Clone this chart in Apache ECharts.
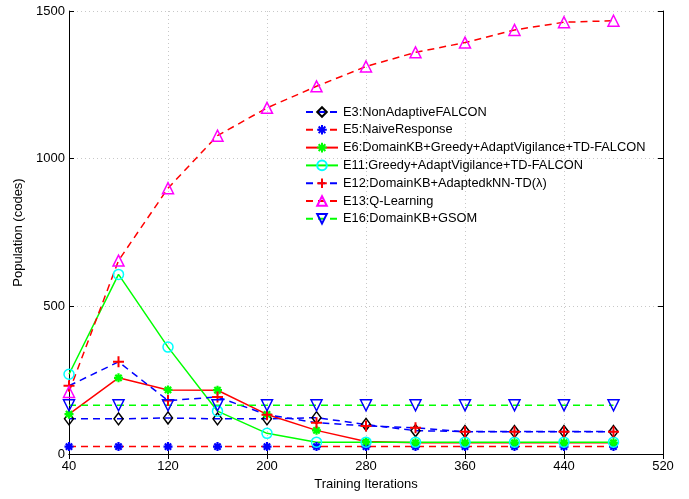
<!DOCTYPE html>
<html>
<head>
<meta charset="utf-8">
<script src="https://cdn.jsdelivr.net/npm/echarts@6/dist/echarts.min.js"></script>
<style>html,body{margin:0;padding:0;background:#fff}#c{width:689px;height:499px}</style>
</head>
<body>
<div id="c"></div>
<script>
// Axis categories (training iterations) and tick labels
var xCategories = ['40','80','120','160','200','240','280','320','360','400','440','480','520'];
var yTicks = [0, 500, 1000, 1500];

// Series values (x = 40, 80, ..., 480)
var e3  = [119, 119, 122, 119, 119, 123, 100, 79, 76, 76, 76, 76];
var e5  = [25, 25, 25, 25, 25, 25, 25, 25, 25, 25, 25, 25];
var e6  = [135, 258, 217, 216, 134, 80, 42, 38, 38, 38, 38, 38];
var e11 = [270, 608, 362, 145, 70, 40, 40, 40, 40, 40, 40, 40];
var e12 = [231, 312, 181, 193, 133, 106, 95, 89, 75, 75, 75, 75];
var e13 = [210, 655, 900, 1078, 1172, 1245, 1312, 1360, 1393, 1436, 1462, 1467];
var e16 = [165, 165, 165, 165, 165, 165, 165, 165, 165, 165, 165, 165];

var names = [
  'E3:NonAdaptiveFALCON',
  'E5:NaiveResponse',
  'E6:DomainKB+Greedy+AdaptVigilance+TD-FALCON',
  'E11:Greedy+AdaptVigilance+TD-FALCON',
  'E12:DomainKB+AdaptedkNN-TD(λ)',
  'E13:Q-Learning',
  'E16:DomainKB+GSOM'
];

var FONT = 'Liberation Sans';
var PLUS = 'path://M5,0L5,10M0,5L10,5';
var STAR = 'path://M5,0L5,10M0,5L10,5M1.5,1.5L8.5,8.5M8.5,1.5L1.5,8.5';
var DASH = [7, 5];

function mk(name, data, lineColor, dashed, symbol, symColor, size, opts) {
  opts = opts || {};
  var filledPath = symbol.indexOf('path://') === 0;
  return {
    name: name,
    type: 'line',
    data: data,
    symbol: symbol,
    symbolSize: size,
    symbolRotate: opts.rotate || 0,
    showSymbol: true,
    showAllSymbol: true,
    animation: false,
    lineStyle: { color: lineColor, width: 1.5, type: dashed ? DASH : 'solid' },
    itemStyle: {
      color: filledPath ? symColor : 'rgba(255,255,255,0)',
      borderColor: symColor,
      borderWidth: opts.bw || 1.5
    },
    emphasis: { disabled: true }
  };
}

var chart = echarts.init(document.getElementById('c'), null, { renderer: 'canvas' });
var axisCommon = {
  axisLine: { show: true, lineStyle: { color: '#000', width: 1 } },
  axisTick: { show: true, inside: true, length: 5, lineStyle: { color: '#000' } }
};
chart.setOption({
  backgroundColor: '#fff',
  animation: false,
  textStyle: { fontFamily: FONT },
  grid: { left: 69, right: 26, top: 11, bottom: 45, show: false },
  legend: {
    orient: 'vertical',
    left: 300,
    top: 100,
    itemWidth: 32,
    itemHeight: 12,
    itemGap: 3.8,
    textStyle: { fontFamily: FONT, fontSize: 12.8, lineHeight: 14, color: '#000' },
    data: names
  },
  xAxis: [{
    type: 'category',
    data: xCategories,
    boundaryGap: false,
    name: 'Training Iterations',
    nameLocation: 'middle',
    nameGap: 20,
    nameTextStyle: { fontFamily: FONT, fontSize: 13, color: '#000' },
    axisLine: axisCommon.axisLine,
    axisTick: { show: true, inside: true, length: 5, interval: 1, lineStyle: { color: '#000' } },
    axisLabel: { interval: 1, fontFamily: FONT, fontSize: 13, color: '#000', margin: 6 },
    splitLine: { show: true, interval: 1, lineStyle: { color: '#c8c8c8', type: [1, 3], width: 1 } }
  }, {
    type: 'category',
    data: xCategories,
    boundaryGap: false,
    position: 'top',
    axisLine: axisCommon.axisLine,
    axisTick: { show: true, inside: true, length: 5, interval: 1, lineStyle: { color: '#000' } },
    axisLabel: { show: false },
    splitLine: { show: false }
  }],
  yAxis: [{
    type: 'value',
    min: yTicks[0],
    max: yTicks[yTicks.length - 1],
    interval: 500,
    name: 'Population (codes)',
    nameLocation: 'middle',
    nameGap: 44,
    nameTextStyle: { fontFamily: FONT, fontSize: 13, color: '#000' },
    axisLine: axisCommon.axisLine,
    axisTick: axisCommon.axisTick,
    axisLabel: { fontFamily: FONT, fontSize: 13, color: '#000', margin: 4, formatter: function (v) { return String(v); } },
    splitLine: { show: true, lineStyle: { color: '#c8c8c8', type: [1, 3], width: 1 } }
  }, {
    type: 'value',
    min: yTicks[0],
    max: yTicks[yTicks.length - 1],
    interval: 500,
    position: 'right',
    axisLine: axisCommon.axisLine,
    axisTick: axisCommon.axisTick,
    axisLabel: { show: false },
    splitLine: { show: false }
  }],
  series: [
    mk(names[0], e3, '#0000ff', true, 'diamond', '#000000', [9, 12]),
    mk(names[1], e5, '#ff0000', true, STAR, '#0000ff', 9, { bw: 2.2 }),
    mk(names[2], e6, '#ff0000', false, STAR, '#00ff00', 9, { bw: 2.2 }),
    mk(names[3], e11, '#00ff00', false, 'circle', '#00ffff', 10),
    mk(names[4], e12, '#0000ff', true, PLUS, '#ff0000', 11, { bw: 2 }),
    mk(names[5], e13, '#ff0000', true, 'triangle', '#ff00ff', 11),
    mk(names[6], e16, '#00ff00', true, 'triangle', '#0000ff', 11, { rotate: 180 })
  ]
});
</script>
</body>
</html>
